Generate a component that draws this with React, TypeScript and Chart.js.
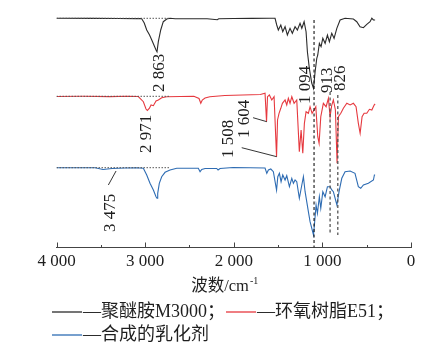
import React, { useEffect, useRef } from "react";
import { Chart, registerables } from "chart.js";

Chart.register(...registerables);

// ---- spectra (wavenumber in cm^-1, offset transmittance in arbitrary units) ----
const blackWn = [4000, 3600, 3300, 3100, 3040, 3010, 2982, 2950, 2925, 2877, 2866, 2851, 2824, 2795, 2756, 2719, 2660, 2500, 2300, 2185, 2170, 2000, 1800, 1600, 1534, 1515, 1497, 1469, 1447, 1421, 1395, 1365, 1339, 1308, 1282, 1252, 1232, 1206, 1184, 1169, 1147, 1120, 1100, 1082, 1063, 1052, 1034, 1015, 995, 969, 943, 921, 894, 868, 837, 800, 744, 650, 612, 575, 537, 499, 462, 442, 424, 405];
const blackT = [226.7, 226.6, 226.5, 226.4, 226.5, 222, 215, 210, 205, 195, 193.3, 203.3, 215, 223.3, 226, 226.7, 226.2, 226.2, 226.2, 225.3, 226.2, 226.5, 226.6, 226.7, 226.7, 220, 215, 220, 213.3, 218.3, 210, 216.7, 211.7, 218.3, 215, 221.7, 216.7, 223.3, 213.3, 193.3, 176.7, 162, 156.7, 173.3, 186.7, 190, 201.7, 198.3, 206.7, 201.7, 210, 203.3, 211.7, 206.7, 216.7, 225, 226.7, 226, 223.3, 218.3, 217.3, 220.7, 223.3, 226.7, 225, 225];

const redWn = [4000, 3700, 3400, 3200, 3077, 3020, 2990, 2975, 2953, 2933, 2907, 2877, 2851, 2813, 2756, 2600, 2450, 2392, 2372, 2355, 2324, 2270, 2100, 1900, 1700, 1647, 1630, 1619, 1598, 1571, 1545, 1517, 1506, 1489, 1469, 1451, 1421, 1402, 1384, 1365, 1345, 1319, 1289, 1260, 1240, 1221, 1203, 1184, 1158, 1139, 1116, 1094, 1074, 1052, 1037, 1018, 989, 958, 932, 913, 894, 876, 853, 834, 819, 792, 763, 724, 687, 650, 620, 594, 574, 552, 529, 499, 469, 442, 416, 405];
const redT = [148.5, 148.7, 148.4, 148.7, 148.5, 143.3, 136, 134.5, 136.5, 140, 139.3, 144, 145, 147.3, 148.3, 148.5, 148.7, 146.5, 141.7, 145, 147, 148.3, 149.5, 150, 150.5, 151.7, 123.3, 148.3, 150, 145, 148.3, 88.3, 125, 131.7, 136.7, 141.7, 145, 140, 146.7, 141.7, 148.3, 141.7, 145, 93.3, 115, 91.7, 121.7, 133.3, 131.7, 138.3, 131.7, 135, 138.3, 108.3, 101.7, 128.3, 141.7, 138.3, 146.7, 128.3, 140, 145, 135, 81.7, 128.3, 131.7, 136.7, 141.7, 140, 141.7, 138.3, 121.7, 111.7, 128.3, 131.7, 131.7, 135.7, 135, 140, 141];

const blueWn = [4000, 3700, 3565, 3475, 3374, 3227, 3100, 3020, 2982, 2945, 2907, 2877, 2866, 2858, 2840, 2813, 2775, 2719, 2643, 2400, 2380, 2361, 2324, 2192, 2177, 2155, 2008, 1816, 1647, 1627, 1609, 1582, 1553, 1517, 1503, 1485, 1466, 1447, 1421, 1402, 1372, 1345, 1327, 1308, 1289, 1260, 1232, 1214, 1195, 1158, 1139, 1100, 1090, 1071, 1056, 1034, 1018, 995, 969, 943, 913, 894, 876, 836, 812, 781, 744, 687, 632, 594, 567, 537, 481, 424, 413, 405];
const blueT = [77.3, 77.3, 77.3, 75.5, 76.5, 77, 77.3, 76.7, 70, 61.7, 55, 48.3, 46.7, 51.7, 61.7, 68.3, 72.7, 75, 76.7, 76.7, 73.3, 75.5, 76.5, 76.5, 75, 76.5, 77.5, 77.3, 77, 71.7, 75, 76, 73.3, 55, 68.3, 71.7, 63.3, 70, 65, 69.3, 58.3, 66.7, 61.7, 65, 63.3, 46.7, 60, 68.3, 53.3, 33.3, 23.3, 10, 20, 40, 31.7, 48.3, 36.7, 53.3, 48.3, 58.3, 58.3, 55, 53.3, 40, 53.3, 66.7, 73.3, 74, 71.7, 58.3, 56.7, 60, 61.7, 65, 70, 70];

// ---- axis, legend, annotations ----
const tickLabels = ["0", "1 000", "2 000", "3 000", "4 000"];
const seriesNames = ["聚醚胺M3000；", "环氧树脂E51；", "合成的乳化剂"];
const axisTitle = "波数/cm";
const axisTitleSup = "-1";

const baselineLevels = [226.7, 148.7, 77.3];
const baselineFrom = 4000;
const baselineTo = 2719;

const markerWn = [1094, 913, 826];
const markerTop = [225, 153, 150];
const markerBottom = [-2.5, 11, 10];

const peakTexts = ["2 863", "2 971", "3 475", "1 508", "1 604", "1 094", "913", "826"];
const peakTextWn = [2832, 2984, 3385, 2064, 1878, 1185, 947, 800];
const peakTextT = [153, 92, 13, 87, 107, 141, 152, 154];

const leaderFromWn = [3415, 1910, 1782];
const leaderFromT = [60, 97.3, 127.3];
const leaderToWn = [3328, 1515, 1627];
const leaderToT = [74, 88.3, 123.3];

const COLORS = ["#2b2b2b", "#e6393f", "#2e6cb3"];
const SERIF = '"Liberation Serif", "Noto Sans CJK SC", serif';
const INK = "#1e1e1e";

function pts(xs: number[], ys: number[]) {
  return xs.map((x, i) => ({ x, y: ys[i] }));
}

const overlayPlugin = {
  id: "overlay",
  afterDraw(chart: any) {
    const { ctx, chartArea } = chart;
    const x = chart.scales.x;
    const y = chart.scales.y;
    ctx.save();

    // inside tick marks
    ctx.strokeStyle = "#444";
    ctx.lineWidth = 1;
    for (let v = 0; v <= 4000; v += 500) {
      const px = Math.round(x.getPixelForValue(v)) + 0.5;
      const len = v % 1000 === 0 ? 5 : 2.5;
      ctx.beginPath();
      ctx.moveTo(px, chartArea.bottom);
      ctx.lineTo(px, chartArea.bottom - len);
      ctx.stroke();
    }

    // leader lines
    ctx.strokeStyle = INK;
    ctx.lineWidth = 0.9;
    for (let i = 0; i < leaderFromWn.length; i++) {
      ctx.beginPath();
      ctx.moveTo(x.getPixelForValue(leaderFromWn[i]), y.getPixelForValue(leaderFromT[i]));
      ctx.lineTo(x.getPixelForValue(leaderToWn[i]), y.getPixelForValue(leaderToT[i]));
      ctx.stroke();
    }

    // rotated peak labels
    ctx.fillStyle = INK;
    ctx.font = `17px ${SERIF}`;
    for (let i = 0; i < peakTexts.length; i++) {
      ctx.save();
      ctx.translate(x.getPixelForValue(peakTextWn[i]), y.getPixelForValue(peakTextT[i]));
      ctx.rotate(-Math.PI / 2);
      ctx.textAlign = "left";
      ctx.textBaseline = "middle";
      ctx.fillText(peakTexts[i], 0, 0);
      ctx.restore();
    }

    // axis title with superscript
    ctx.textAlign = "left";
    ctx.textBaseline = "alphabetic";
    ctx.font = `16.5px ${SERIF}`;
    const w1 = ctx.measureText(axisTitle).width;
    ctx.font = `10px ${SERIF}`;
    const w2 = ctx.measureText(axisTitleSup).width;
    const cx = (chartArea.left + chartArea.right) / 2 - 9;
    const sx = cx - (w1 + w2 + 1) / 2;
    const base = chartArea.bottom + 43;
    ctx.font = `16.5px ${SERIF}`;
    ctx.fillText(axisTitle, sx, base);
    ctx.font = `10px ${SERIF}`;
    ctx.fillText(axisTitleSup, sx + w1 + 1, base - 6.5);

    // legend
    const items = [
      { lx: 52, ly: 312 },
      { lx: 226, ly: 312 },
      { lx: 52, ly: 335 },
    ];
    ctx.font = `18px ${SERIF}`;
    ctx.textBaseline = "middle";
    items.forEach((it, i) => {
      ctx.strokeStyle = COLORS[i];
      ctx.lineWidth = 1.3;
      ctx.beginPath();
      ctx.moveTo(it.lx, it.ly);
      ctx.lineTo(it.lx + 30, it.ly);
      ctx.stroke();
      ctx.fillStyle = INK;
      ctx.fillText("—" + seriesNames[i], it.lx + 31, it.ly);
    });

    ctx.restore();
  },
};

export default function App() {
  const ref = useRef<HTMLCanvasElement | null>(null);

  useEffect(() => {
    if (!ref.current) return;
    const spectra = [
      { data: pts(blackWn, blackT), color: COLORS[0] },
      { data: pts(redWn, redT), color: COLORS[1] },
      { data: pts(blueWn, blueT), color: COLORS[2] },
    ].map((s) => ({
      data: s.data,
      borderColor: s.color,
      borderWidth: 1.1,
      pointRadius: 0,
      tension: 0,
      fill: false,
      order: 2,
    }));
    const baselines = baselineLevels.map((lv) => ({
      data: [
        { x: baselineFrom, y: lv },
        { x: baselineTo, y: lv },
      ],
      borderColor: "#555",
      borderWidth: 1,
      borderDash: [1.5, 1.5],
      pointRadius: 0,
      fill: false,
      order: 1,
    }));
    const markers = markerWn.map((wn, i) => ({
      data: [
        { x: wn, y: markerTop[i] },
        { x: wn, y: markerBottom[i] },
      ],
      borderColor: i === 0 ? "#111" : "#555",
      borderWidth: i === 0 ? 1.1 : 1.3,
      borderDash: [3, 2.5],
      pointRadius: 0,
      fill: false,
      order: 1,
    }));

    const chart = new Chart(ref.current, {
      type: "line",
      data: { datasets: [...spectra, ...baselines, ...markers] as any },
      options: {
        animation: false,
        responsive: false,
        parsing: false as any,
        normalized: true,
        layout: { padding: { left: 56.5, right: 20, top: 10, bottom: 73.1 } },
        plugins: { legend: { display: false }, tooltip: { enabled: false } },
        scales: {
          x: {
            type: "linear",
            reverse: true,
            min: 0,
            max: 4000,
            grid: { display: false, drawTicks: false },
            border: { display: true, color: "#444", width: 1 },
            ticks: {
              stepSize: 1000,
              autoSkip: false,
              maxRotation: 0,
              padding: 4,
              color: INK,
              font: { family: SERIF, size: 17 },
              callback: (v: any) => tickLabels[Math.round(Number(v) / 1000)] ?? "",
            },
          },
          y: {
            type: "linear",
            display: false,
            min: -2.5,
            max: 235,
          },
        },
      },
      plugins: [overlayPlugin],
    });
    return () => chart.destroy();
  }, []);

  return (
    <div style={{ position: "absolute", left: 0, top: 0, width: 431, height: 349, background: "#fff" }}>
      <canvas ref={ref} width={431} height={349} style={{ width: 431, height: 349, display: "block" }} />
    </div>
  );
}
